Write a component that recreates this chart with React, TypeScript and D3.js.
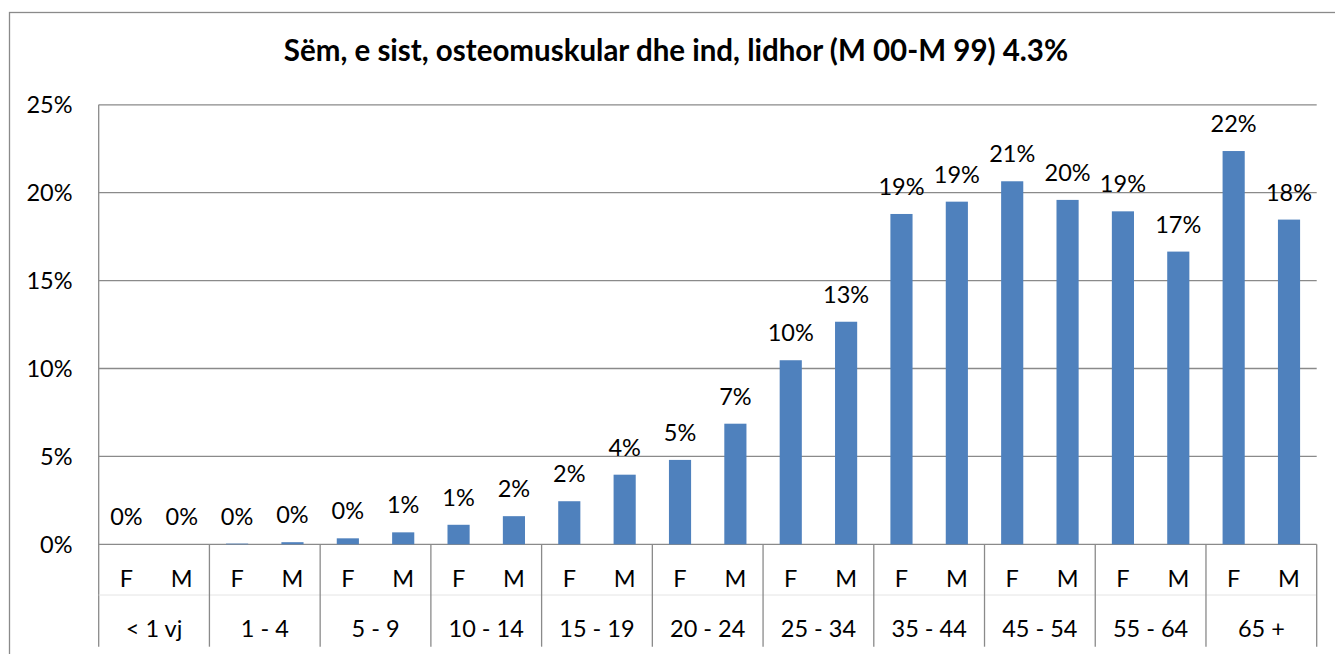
import React from 'react';
import * as d3 from 'd3';

// age groups, each with a female (F) and male (M) bar
const groups = ['< 1 vj', '1 - 4', '5 - 9', '10 - 14', '15 - 19', '20 - 24', '25 - 34', '35 - 44', '45 - 54', '55 - 64', '65 +'];
const sexes = ['F', 'M'];
const female = [0, 0.04, 0.34, 1.11, 2.45, 4.8, 10.47, 18.79, 20.65, 18.94, 22.37];
const male = [0, 0.12, 0.68, 1.6, 3.96, 6.86, 12.66, 19.49, 19.59, 16.65, 18.47];
const yTicks = [0, 5, 10, 15, 20, 25];
const title = 'Sëm, e sist, osteomuskular dhe ind, lidhor (M 00-M 99) 4.3%';

const W = 1335;
const H = 654;
const FONT = 'Lato, sans-serif';
const GRID = '#8a8a8a';
const BAR = '#4F81BD';
const FS = 23.5;

const App = () => {
  // flatten into one row per bar
  const rows = groups.flatMap((g, i) => [
    { key: `${g}|${sexes[0]}`, group: g, sex: sexes[0], value: female[i] },
    { key: `${g}|${sexes[1]}`, group: g, sex: sexes[1], value: male[i] }
  ]);

  const plot = { left: 98.7, right: 1316.7, top: 104.8, bottom: 544.3 };

  const x = d3
    .scaleBand()
    .domain(rows.map((d) => d.key))
    .range([plot.left, plot.right])
    .paddingInner(0.6)
    .paddingOuter(0.3);

  const xGroup = d3.scaleBand().domain(groups).range([plot.left, plot.right]);

  const y = d3.scaleLinear().domain([0, 25]).range([plot.bottom, plot.top]);

  const sepBottom = 646.7;

  return (
    <svg width={W} height={H} style={{ position: 'absolute', left: 0, top: 0, background: '#fff' }}>
      {/* outer chart border (right and bottom edges fall outside the picture) */}
      <rect x={9.5} y={12.5} width={1335} height={700} fill="#fff" stroke={GRID} strokeWidth={1.3} />

      <text x={676} y={61} textAnchor="middle" fontFamily={FONT} fontWeight="bold" fontSize={29.5} fill="#000">
        {title}
      </text>

      {/* gridlines + y labels */}
      {yTicks.map((t) => (
        <g key={t}>
          <line x1={plot.left} x2={plot.right} y1={y(t)} y2={y(t)} stroke={GRID} strokeWidth={1.3} />
          <text x={72.5} y={y(t)} dy="0.36em" textAnchor="end" fontFamily={FONT} fontSize={FS} fill="#000">
            {t}%
          </text>
        </g>
      ))}

      {/* y axis line */}
      <line x1={plot.left} x2={plot.left} y1={plot.top} y2={sepBottom} stroke={GRID} strokeWidth={1.3} />

      {/* bars */}
      {rows.map((d) => (
        <rect
          key={d.key}
          x={x(d.key)}
          y={y(d.value)}
          width={x.bandwidth()}
          height={plot.bottom - y(d.value)}
          fill={BAR}
        />
      ))}

      {/* value labels */}
      {rows.map((d) => (
        <text
          key={`l-${d.key}`}
          x={(x(d.key) as number) + x.bandwidth() / 2}
          y={y(d.value) - 19}
          textAnchor="middle"
          fontFamily={FONT}
          fontSize={FS}
          fill="#000"
        >
          {Math.round(d.value)}%
        </text>
      ))}

      {/* faint line between the two label rows */}
      <line x1={plot.left} x2={plot.right} y1={595} y2={595} stroke="#e4e4e4" strokeWidth={1} />

      {/* group separators */}
      {groups.map((g) => (
        <line
          key={`s-${g}`}
          x1={(xGroup(g) as number) + xGroup.bandwidth()}
          x2={(xGroup(g) as number) + xGroup.bandwidth()}
          y1={plot.bottom}
          y2={sepBottom}
          stroke={GRID}
          strokeWidth={1.3}
        />
      ))}

      {/* F / M labels */}
      {rows.map((d) => (
        <text
          key={`c-${d.key}`}
          x={(x(d.key) as number) + x.bandwidth() / 2}
          y={578.3}
          dy="0.36em"
          textAnchor="middle"
          fontFamily={FONT}
          fontSize={FS}
          fill="#000"
        >
          {d.sex}
        </text>
      ))}

      {/* group labels */}
      {groups.map((g) => (
        <text
          key={`g-${g}`}
          x={(xGroup(g) as number) + xGroup.bandwidth() / 2}
          y={629}
          dy="0.36em"
          textAnchor="middle"
          fontFamily={FONT}
          fontSize={FS}
          fill="#000"
        >
          {g}
        </text>
      ))}
    </svg>
  );
};

export default App;
